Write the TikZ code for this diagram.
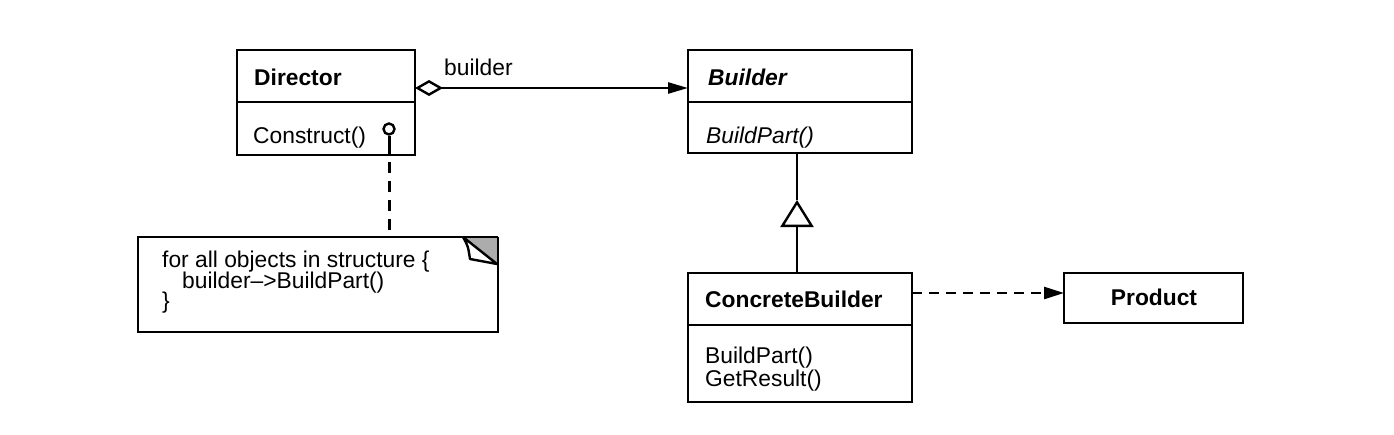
\documentclass[tikz,border=0pt]{standalone}
\usepackage{fontspec}
\setmainfont{Liberation Sans}
\usetikzlibrary{arrows.meta,calc}
\begin{document}
\begin{tikzpicture}[x=1pt,y=-1pt,
  comp/.style={draw=black, line width=2.6pt, anchor=north west, inner sep=0pt, outer sep=0pt},
  txt/.style={anchor=base west, inner sep=0pt, font=\fontsize{22.8pt}{23pt}\selectfont},
  ctxt/.style={anchor=base, inner sep=0pt, font=\fontsize{22.8pt}{23pt}\selectfont},
  conn/.style={line width=2.6pt},
  dep/.style={line width=2.6pt, dash pattern=on 10pt off 7pt},
  notedash/.style={line width=3pt, dash pattern=on 11pt off 8pt}
]
\useasboundingbox (0,0) rectangle (1394,434);

% Director
\node[comp, minimum width=178pt, minimum height=52pt] (dirH) at (237,50) {};
\node[comp, minimum width=178pt, minimum height=53pt] (dirB) at (237,102) {};
\node[txt] (tDir) at (254,85) {\bfseries Director};
\node[txt] (tCon) at (253,143) {Construct()};

% Builder
\node[comp, minimum width=224pt, minimum height=52pt] (bH) at (688,50) {};
\node[comp, minimum width=224pt, minimum height=51pt] (bB) at (688,102) {};
\node[txt] (tB) at (708,85) {\bfseries\itshape Builder};
\node[txt] (tBP) at (706,143) {\itshape BuildPart()};

% ConcreteBuilder
\node[comp, minimum width=224pt, minimum height=52pt] (cbH) at (688,273) {};
\node[comp, minimum width=224pt, minimum height=77pt] (cbB) at (688,325) {};
\node[txt] (tCB) at (705,307) {\bfseries ConcreteBuilder};
\node[txt] (tCB1) at (705,363) {BuildPart()};
\node[txt] (tCB2) at (705,386) {GetResult()};

% Product
\node[comp, minimum width=179pt, minimum height=50pt] (prod) at (1064,273) {};
\node[ctxt] (tP) at (1154,305) {\bfseries Product};

% aggregation
\draw[conn, {Diamond[open,length=28pt,width=16pt,line width=2.4pt]}-{Triangle[length=20pt,width=11pt]}]
  ([yshift=-12pt]dirH.east) -- ([yshift=-12pt]bH.west);
\node[txt] (lblB) at (444,75) {builder};

% inheritance
\coordinate (triTop) at (797,200);
\draw[conn] (bB.south -| triTop) -- (triTop);
\draw[conn, -{Triangle[open,length=27pt,width=33pt,line width=2.4pt]}] (cbH.north -| triTop) -- (triTop);

% dependency
\draw[dep, -{Triangle[length=20pt,width=12pt]}] ([yshift=6pt]cbH.east) -- ([yshift=5pt]prod.west);

% note
\node[inner sep=0pt, minimum width=360pt, minimum height=95pt, anchor=north west] (note) at (138,237) {};
\fill[gray!65] (463,237) -- (498,237) -- (498,266) -- cycle;
\draw[line width=2.6pt, line join=miter] (463,237) -- (138,237) -- (138,332) -- (498,332) -- (498,237);
\draw[line width=2.4pt, fill=white, line join=round] (463,237) .. controls (468,246) .. (470,259) -- (497,264) -- cycle;
\draw[line width=1.5pt] (463,237) -- (498,237);
\node[txt] (n1) at (162,267) {for all objects in structure \{};
\node[txt] (n2) at (182,288) {builder\textendash>BuildPart()};
\node[txt] (n3) at (162,308) {\}};

% lollipop
\node[circle, draw, line width=2.4pt, minimum size=11pt, inner sep=0pt] (lolli) at (389,129) {};
\coordinate (stem) at (389,143);
\draw[line width=3pt] (lolli.south) -- (stem);
\draw[notedash] (stem) -- (note.north -| stem);
\end{tikzpicture}
\end{document}
